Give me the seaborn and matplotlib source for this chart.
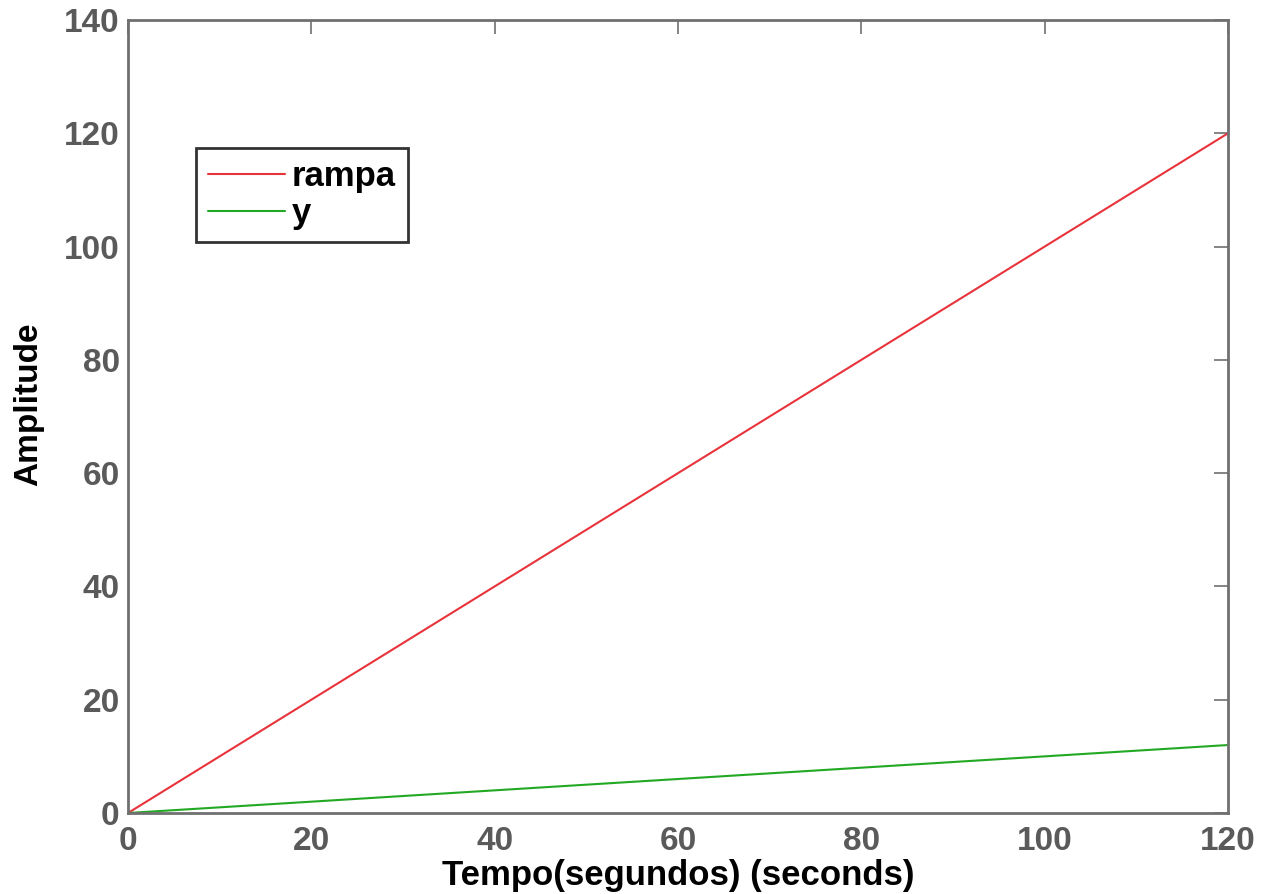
import matplotlib
matplotlib.use("Agg")
import matplotlib.pyplot as plt
import numpy as np
import pandas as pd
import seaborn as sns

# data
tempo = [0, 20, 40, 60, 80, 100, 120]
rampa = [0, 20, 40, 60, 80, 100, 120]
y = [0, 2, 4, 6, 8, 10, 12]

df = pd.DataFrame({"tempo": tempo * 2,
                   "valor": rampa + y,
                   "serie": ["rampa"] * len(tempo) + ["y"] * len(tempo)})

sns.set_style("white")
plt.rcParams['font.family'] = ['Liberation Sans', 'DejaVu Sans']

fig = plt.figure(figsize=(12.7, 8.94), dpi=100)
ax = fig.add_axes([128 / 1270, 1 - 813 / 894, 1100 / 1270, 793 / 894])

sns.lineplot(data=df, x="tempo", y="valor", hue="serie",
             palette={"rampa": "#e8333b", "y": "#22a822"},
             linewidth=1.5, ax=ax)

ax.set_xlim(0, 120)
ax.set_ylim(0, 140)
ax.set_xticks(np.arange(0, 121, 20))
ax.set_yticks(np.arange(0, 141, 20))

grey = "#5a5a5a"
for s in ax.spines.values():
    s.set_color("#707070")
    s.set_linewidth(2)
ax.tick_params(direction="in", length=10, width=1.2, color="#707070",
               top=True, right=True, labelsize=24, labelcolor=grey)
ax.tick_params(axis="x", pad=9)
ax.tick_params(axis="y", pad=6)
for lab in ax.get_xticklabels() + ax.get_yticklabels():
    lab.set_fontweight("bold")

ax.set_xlabel("Tempo(segundos) (seconds)", fontsize=25, fontweight="bold",
              color="black", labelpad=2)
ax.set_ylabel("Amplitude", fontsize=24, fontweight="bold", color="black")
ax.yaxis.set_label_coords(-0.076, 0.516)

leg = ax.legend(loc="upper left", bbox_to_anchor=(196 / 1270, 1 - 148 / 894),
                bbox_transform=fig.transFigure, fontsize=25, frameon=True,
                fancybox=False, edgecolor="black", handlelength=2.2,
                borderpad=0.35, labelspacing=0.12, handletextpad=0.2,
                borderaxespad=0)
leg.get_frame().set_linewidth(2)
for t in leg.get_texts():
    t.set_fontweight("bold")
    t.set_color("black")

fig.savefig("out.png", dpi=100)
